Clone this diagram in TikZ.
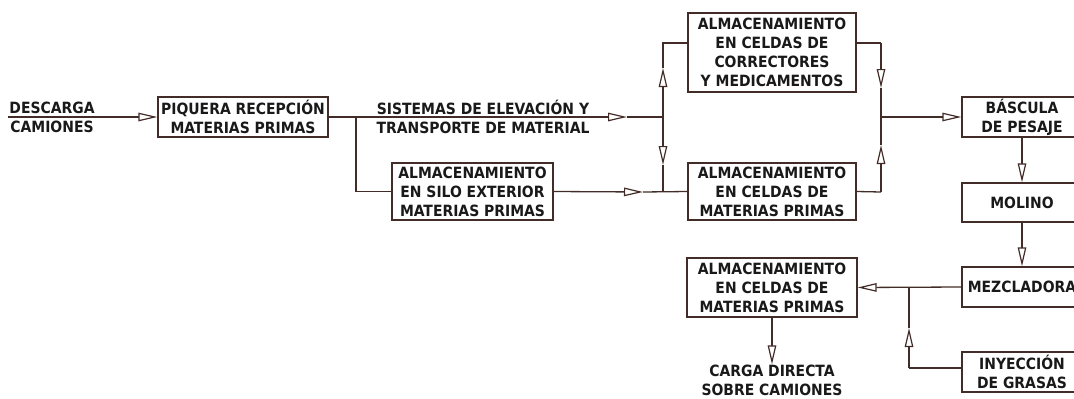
\documentclass[tikz,border=0pt]{standalone}
\usepackage{fontspec}
\setmainfont{DejaVu Sans Condensed}
\usetikzlibrary{arrows.meta}

\definecolor{linec}{RGB}{66,44,40}
\definecolor{textc}{RGB}{25,25,25}

\tikzset{
  box/.style={draw=linec,line width=1.3pt,align=center,inner sep=0pt,
    font=\bfseries\fontsize{15.5}{19}\selectfont,text=textc},
  lbl/.style={align=center,inner sep=0pt,font=\bfseries\fontsize{15.5}{19}\selectfont,text=textc},
  line/.style={draw=linec,line width=1.3pt},
  flow/.style={line,-{Triangle[open,length=19pt,width=8.5pt,line width=1.2pt]}}
}

\begin{document}
\begin{tikzpicture}[x=1pt,y=-1pt]

\useasboundingbox (0,0) rectangle (1074,399);
\clip (0,0) rectangle (1074,399);

% boxes
\node[box,minimum width=170pt,minimum height=40pt] (piq) at (243,117) {PIQUERA RECEPCIÓN\\MATERIAS PRIMAS};
\node[box,minimum width=161pt,minimum height=57pt] (silo) at (472.5,191.5) {ALMACENAMIENTO\\EN SILO EXTERIOR\\MATERIAS PRIMAS};
\node[box,minimum width=168pt,minimum height=79pt] (corr) at (772,52.5) {ALMACENAMIENTO\\EN CELDAS DE\\CORRECTORES\\Y MEDICAMENTOS};
\node[box,minimum width=168pt,minimum height=57pt] (celdas) at (772,191.5) {ALMACENAMIENTO\\EN CELDAS DE\\MATERIAS PRIMAS};
\node[box,minimum width=120pt,minimum height=40pt] (bascula) at (1022,117) {BÁSCULA\\DE PESAJE};
\node[box,minimum width=120pt,minimum height=39pt] (molino) at (1022,202.5) {MOLINO};
\node[box,minimum width=120pt,minimum height=40pt] (mezcla) at (1022,287) {MEZCLADORA};
\node[box,minimum width=170pt,minimum height=59pt] (celdasb) at (772,287.5) {ALMACENAMIENTO\\EN CELDAS DE\\MATERIAS PRIMAS};
\node[box,minimum width=120pt,minimum height=40pt] (inyec) at (1022,372) {INYECCIÓN\\DE GRASAS};

% texts
\node[lbl] (descarga) at (52,117) {DESCARGA\\CAMIONES};
\node[lbl] (sistemas) at (483,117) {SISTEMAS DE ELEVACIÓN Y\\TRANSPORTE DE MATERIAL};
\node[lbl] (carga) at (772,380) {CARGA DIRECTA\\SOBRE CAMIONES};

% junctions and arrow tips
\coordinate (d0) at (8,117);
\coordinate (ja) at (356,117);
\coordinate (jb) at (663,117);
\coordinate (jc) at (881,117);
\coordinate (jd) at (909,287);
\coordinate (ctop) at (663,43);
\coordinate (cbot) at (663,192);
\coordinate (rtop) at (881,43);
\coordinate (rbot) at (881,192);
\coordinate (iny) at (909,368);
\coordinate (tipa) at (627,117);
\coordinate (tipb) at (643,192);
\coordinate (tipc) at (663,68);
\coordinate (tipd) at (663,165);
\coordinate (tipe) at (881,88);
\coordinate (tipf) at (881,145);
\coordinate (tipg) at (909,328);

% connectors
\draw[flow] (d0) -- (piq.west);
\draw[flow] (piq.east) -- (tipa);
\draw[line] (tipa) -- (jb);
\draw[line] (ja) |- (silo.west);
\draw[flow] (silo.east) -- (tipb);
\draw[line] (tipb) -- (celdas.west);
\draw[flow] (jb) -- (tipc);
\draw[line] (tipc) -- (ctop) -- (corr.west |- ctop);
\draw[flow] (jb) -- (tipd);
\draw[line] (tipd) -- (cbot);
\draw[line] (corr.east |- rtop) -- (rtop);
\draw[flow] (rtop) -- (tipe);
\draw[line] (tipe) -- (jc);
\draw[line] (celdas.east) -- (rbot);
\draw[flow] (rbot) -- (tipf);
\draw[line] (tipf) -- (jc);
\draw[flow] (jc) -- (bascula.west);
\draw[flow] (bascula.south) -- (molino.north);
\draw[flow] (molino.south) -- (mezcla.north);
\draw[flow] (mezcla.west) -- (celdasb.east);
\draw[line] (inyec.west |- iny) -- (iny);
\draw[flow] (iny) -- (tipg);
\draw[line] (tipg) -- (jd);
\draw[flow] (celdasb.south) -- (carga.north);

\end{tikzpicture}
\end{document}
